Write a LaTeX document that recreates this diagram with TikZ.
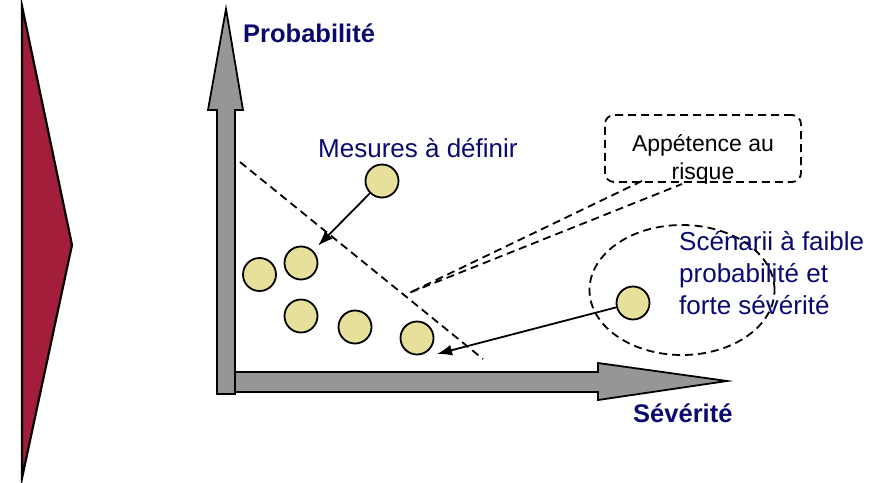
\documentclass[tikz,border=0pt]{standalone}
\usepackage{fontspec}
\setmainfont{Liberation Sans}
\usetikzlibrary{shapes.geometric,arrows.meta}
\definecolor{crimson}{HTML}{A21E3A}
\definecolor{axisgray}{HTML}{969696}
\definecolor{dotfill}{HTML}{E6E09A}
\definecolor{navytext}{HTML}{0A0A6E}
\begin{document}
\begin{tikzpicture}[x=1pt,y=-1pt,
  dot/.style={circle,draw=black,line width=1.8pt,fill=dotfill,minimum size=33pt,inner sep=0pt},
  axisarrow/.style={draw=black,line width=1.8pt,fill=axisgray,line join=miter},
  dashline/.style={dash pattern=on 8pt off 5pt,line width=1.8pt},
  pointer/.style={line width=1.8pt,-{Latex[length=15pt,width=11pt]}},
  bluelabel/.style={text=navytext,font=\fontsize{26}{32}\selectfont,inner sep=0pt},
  axislabel/.style={text=navytext,font=\fontsize{25.5}{28}\selectfont\bfseries,inner sep=0pt}]
\useasboundingbox (0,0) rectangle (883,482);
% left chevron
\draw[line width=2.2pt,fill=crimson,line join=miter] (22,6) -- (72,245) -- (22,478) -- cycle;
% axes
\draw[axisarrow] (235,372) -- (598,372) -- (598,363) -- (727,381) -- (598,400) -- (598,392) -- (235,392);
\draw[axisarrow] (217,394) -- (217,110) -- (208,110) -- (226,9) -- (243,110) -- (235,110) -- (235,394) -- cycle;
\node[axislabel,anchor=west] (prob) at (243,33) {Probabilité};
\node[axislabel,anchor=west] (sev) at (633,413) {Sévérité};
% risk appetite line
\coordinate (d1) at (240,162);
\coordinate (d2) at (483,359);
\draw[dashline] (d1) -- (d2);
% callout box
\node[draw,dashline,rounded corners=9pt,minimum width=196pt,minimum height=67pt,inner sep=0pt] (box) at (703,148.5) {};
\node[font=\fontsize{23}{28}\selectfont,align=center,inner sep=0pt] (boxtxt) at (703,159) {Appétence au\\risque};
\coordinate (tip) at (409,293);
\coordinate (w1) at (642,181);
\coordinate (w2) at (682,184);
\draw[dashline] (w1) -- (tip) -- (w2);
% dots
\node[dot] (c1) at (382,181) {};
\node[dot] (c2) at (301,263) {};
\node[dot] (c3) at (259.5,274.5) {};
\node[dot] (c4) at (301,316) {};
\node[dot] (c5) at (355,327) {};
\node[dot] (c6) at (417,338) {};
\node[dot] (c7) at (633,303) {};
% labels
\node[bluelabel,anchor=west] (mes) at (318,148) {Mesures à définir};
\node[draw,ellipse,dashline,minimum width=185pt,minimum height=130pt,inner sep=0pt] (ell) at (682,290) {};
\node[bluelabel,anchor=north west,align=left] (scen) at (679,231) {Scénarii à faible\\probabilité et\\forte sévérité};
% arrows
\draw[pointer,shorten >=7pt] (c1) -- (c2);
\coordinate (t2) at (437,354);
\draw[pointer] (c7) -- (t2);
\end{tikzpicture}
\end{document}
